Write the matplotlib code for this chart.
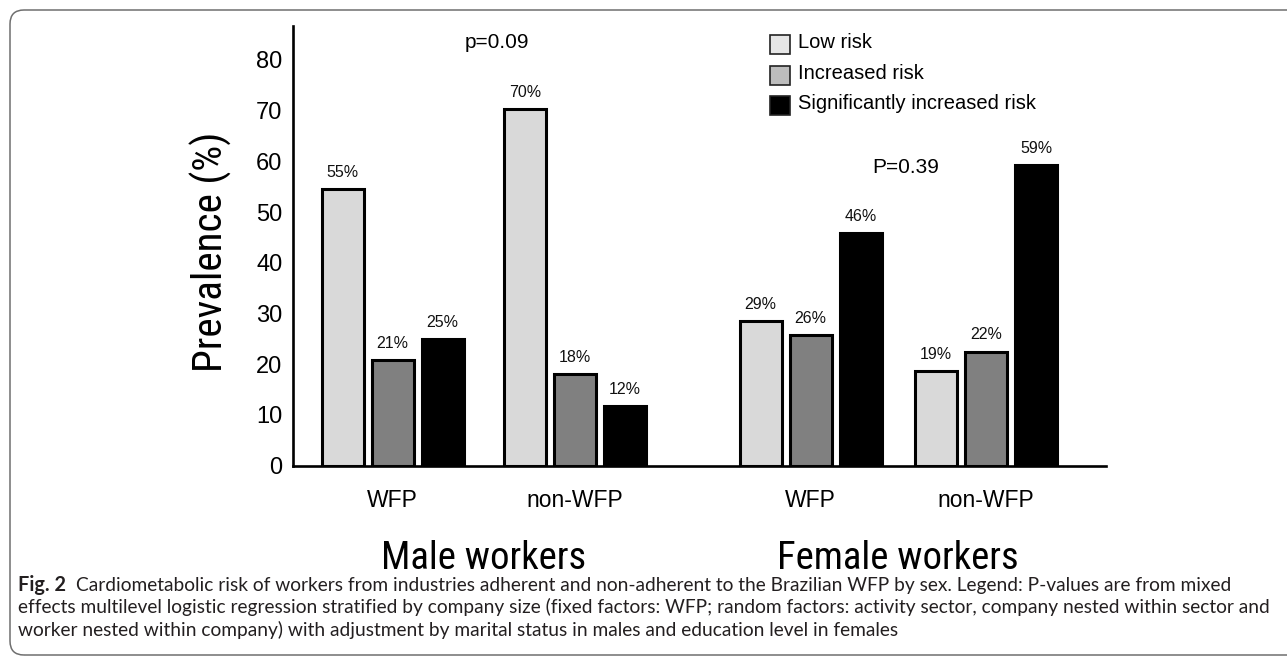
import matplotlib
matplotlib.use('Agg')
import matplotlib.pyplot as plt
from matplotlib import font_manager
from matplotlib.patches import Rectangle, FancyBboxPatch
from matplotlib.transforms import IdentityTransform

# ---------------- data ----------------
groups = ['WFP', 'non-WFP', 'WFP', 'non-WFP']
sexes = ['Male workers', 'Female workers']
series = ['Low risk', 'Increased risk', 'Significantly increased risk']
low_risk = [54.6, 70.3, 28.5, 18.7]
increased_risk = [20.8, 18.0, 25.8, 22.5]
sig_increased_risk = [24.9, 11.7, 45.8, 59.3]
low_labels = ['55%', '70%', '29%', '19%']
inc_labels = ['21%', '18%', '26%', '22%']
sig_labels = ['25%', '12%', '46%', '59%']
p_values = ['p=0.09', 'P=0.39']
yticks = [0, 10, 20, 30, 40, 50, 60, 70, 80]
ylabel = 'Prevalence (%)'
caption_bold = 'Fig. 2'
caption_lines = [
    'Cardiometabolic risk of workers from industries adherent and non-adherent to the Brazilian WFP by sex. Legend: P-values are from mixed',
    'effects multilevel logistic regression stratified by company size (fixed factors: WFP; random factors: activity sector, company nested within sector and',
    'worker nested within company) with adjustment by marital status in males and education level in females',
]

# ---------------- layout helpers ----------------
W, H = 1287, 658
DPI = 100


def fx(x):
    return x / W


def fy(y):
    return 1 - y / H


names = {f.name for f in font_manager.fontManager.ttflist}


def pick(cands, default):
    for c in cands:
        if c in names:
            return c
    return default


base_font = pick(['Liberation Sans', 'Arimo', 'DejaVu Sans'], 'DejaVu Sans')
narrow_font = pick(['Liberation Sans Narrow', 'Arial Narrow', 'Nimbus Sans Narrow',
                    'Roboto Condensed', 'Open Sans Condensed'], base_font)
cap_font = pick(['Lato', 'Open Sans', 'Noto Sans'], 'DejaVu Sans')

plt.rcParams['font.family'] = [base_font, 'DejaVu Sans']

fig = plt.figure(figsize=(W / DPI, H / DPI), dpi=DPI)
fig.patch.set_facecolor('white')

# frame
frame = FancyBboxPatch((10, H - 655), 1320, 645,
                       boxstyle='round,pad=0,rounding_size=14',
                       transform=IdentityTransform(), fill=False,
                       ec='#6f6f6f', lw=1.1)
fig.add_artist(frame)

# axes occupying the plotting region in pixels
x0, x1 = 293, 1106
y_zero, y_top = 465.6, 26
ymax = 86.7
ax = fig.add_axes([fx(x0), fy(y_zero), (x1 - x0) / W, (y_zero - y_top) / H])
ax.set_xlim(0, x1 - x0)
ax.set_ylim(0, ymax)

group_centers = [99.5, 282, 517.5, 693]
offsets = [-50, 0, 50]
bar_w = 42
fills = ['#d9d9d9', '#808080', '#000000']
values = [low_risk, increased_risk, sig_increased_risk]
labels = [low_labels, inc_labels, sig_labels]

for si in range(3):
    xs = [c + offsets[si] for c in group_centers]
    ax.bar(xs, values[si], width=bar_w, color=fills[si], edgecolor='black',
           linewidth=2.2, zorder=3)
    for x, v, lab in zip(xs, values[si], labels[si]):
        ax.annotate(lab, (x, v), xytext=(0, 6.5), textcoords='offset points',
                    ha='center', va='bottom', fontsize=11.5, color='#111111')

for s in ['top', 'right']:
    ax.spines[s].set_visible(False)
for s in ['left', 'bottom']:
    ax.spines[s].set_linewidth(1.9)
    ax.spines[s].set_color('black')

ax.set_yticks(yticks)
ax.set_yticklabels([str(t) for t in yticks])
ax.set_xticks(group_centers)
ax.set_xticklabels(groups)
ax.tick_params(axis='y', length=0, labelsize=17, pad=7.5)
ax.tick_params(axis='x', length=0, labelsize=16.5, pad=17)
ax.set_facecolor('none')

# p-values
fig.text(fx(497), fy(43), p_values[0], ha='center', va='center', fontsize=15)
fig.text(fx(906), fy(168), p_values[1], ha='center', va='center', fontsize=15)

# legend (drawn manually)
leg_fill = ['#e6e6e6', '#bdbdbd', '#000000']
leg_y = [44, 75, 105]
for f, yy, lab in zip(leg_fill, leg_y, series):
    fig.add_artist(Rectangle((770, H - (yy + 9.5)), 20, 19, transform=IdentityTransform(),
                             fc=f, ec='#222222', lw=1.2))
    fig.text(fx(798), fy(yy - 1.5), lab, ha='left', va='center', fontsize=14.5)

fig.canvas.draw()
renderer = fig.canvas.get_renderer()


def fit_size(txt, target_len, fam, start, vertical=False, **kw):
    t = fig.text(0, 0, txt, fontsize=start, family=fam, **kw)
    bb = t.get_window_extent(renderer)
    length = bb.height if vertical else bb.width
    t.remove()
    return start * target_len / length


# y label
yl_size = fit_size(ylabel, 240, [narrow_font, 'DejaVu Sans'], 30, vertical=True, rotation=90)
fig.text(fx(211), fy(252), ylabel, rotation=90, ha='center', va='center',
         fontsize=yl_size, family=[narrow_font, 'DejaVu Sans'])

# group (sex) labels
sx_size = fit_size(sexes[1], 242, [narrow_font, 'DejaVu Sans'], 30)
male_c = x0 + (group_centers[0] + group_centers[1]) / 2
female_c = x0 + (group_centers[2] + group_centers[3]) / 2
for cx, lab in zip([male_c, female_c], sexes):
    fig.text(fx(cx), fy(569), lab, ha='center', va='baseline', fontsize=sx_size,
             family=[narrow_font, 'DejaVu Sans'])

# caption
cap_size = fit_size(caption_lines[1], 1250, [cap_font, 'DejaVu Sans'], 12)
cap_color = '#231f20'
tb = fig.text(fx(18), fy(591), caption_bold, ha='left', va='baseline', fontsize=cap_size * 1.04,
              fontweight='bold', family=[cap_font, 'DejaVu Sans'], color=cap_color)
bb = tb.get_window_extent(renderer)
fig.text(bb.x1 / W + 10 / W, fy(591), caption_lines[0], ha='left', va='baseline',
         fontsize=cap_size, family=[cap_font, 'DejaVu Sans'], color=cap_color)
fig.text(fx(18), fy(613.5), caption_lines[1], ha='left', va='baseline',
         fontsize=cap_size, family=[cap_font, 'DejaVu Sans'], color=cap_color)
fig.text(fx(18), fy(636), caption_lines[2], ha='left', va='baseline',
         fontsize=cap_size, family=[cap_font, 'DejaVu Sans'], color=cap_color)

fig.savefig('out.png', dpi=DPI)
